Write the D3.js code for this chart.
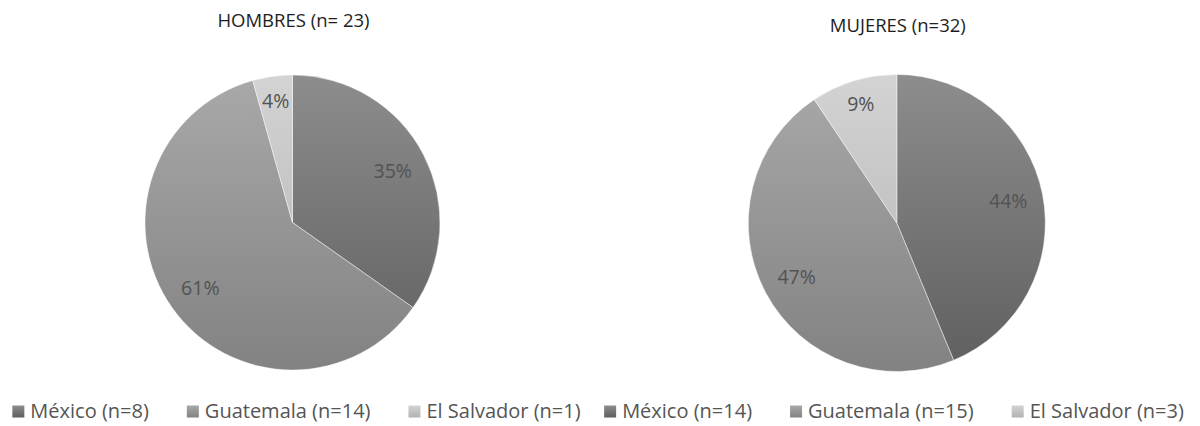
<!DOCTYPE html>
<html>
<head>
<meta charset="utf-8">
<script src="https://cdn.jsdelivr.net/npm/d3@7/dist/d3.min.js"></script>
<style>
  html, body { margin: 0; padding: 0; background: #fff; }
  svg { display: block; }
  text { font-family: "Open Sans", Lato, sans-serif; }
</style>
</head>
<body>
<svg id="chart" width="1200" height="426"></svg>
<script>
// Country of origin by sex
const countries = ["México", "Guatemala", "El Salvador"];
const hombres = [8, 14, 1];
const mujeres = [14, 15, 3];
const titles = ["HOMBRES (n= 23)", "MUJERES (n=32)"];

// Grey gradient stops per country (top, bottom)
const fillTop = ["#8d8d8d", "#a9a9a9", "#d3d3d3"];
const fillBottom = ["#5f5f5f", "#828282", "#b2b2b2"];

const svg = d3.select("#chart");
const defs = svg.append("defs");

const panels = [
  { values: hombres, title: titles[0], cx: 292.5, cy: 222.5, r: 147.5, titleY: 27, legendCx: 296.5 },
  { values: mujeres, title: titles[1], cx: 896.8, cy: 223, r: 148.5, titleY: 32, legendCx: 894 }
];

const pie = d3.pie().sort(null).value(d => d);

panels.forEach((p, pi) => {
  const g = svg.append("g").attr("transform", `translate(${p.cx},${p.cy})`);
  const total = d3.sum(p.values);

  // vertical gradients spanning the pie
  countries.forEach((c, i) => {
    const grad = defs.append("linearGradient")
      .attr("id", `grad-${pi}-${i}`)
      .attr("gradientUnits", "userSpaceOnUse")
      .attr("x1", 0).attr("y1", -p.r).attr("x2", 0).attr("y2", p.r);
    grad.append("stop").attr("offset", "0%").attr("stop-color", fillTop[i]);
    grad.append("stop").attr("offset", "100%").attr("stop-color", fillBottom[i]);
  });

  const arc = d3.arc().innerRadius(0).outerRadius(p.r);
  const arcs = pie(p.values);

  g.selectAll("path.slice").data(arcs).join("path")
    .attr("class", "slice")
    .attr("d", arc)
    .attr("fill", (d, i) => `url(#grad-${pi}-${i})`)
    .attr("stroke", "#ffffff")
    .attr("stroke-opacity", 0.55)
    .attr("stroke-width", 0.8);

  // percentage labels inside slices; narrow slices get labels nearer the rim
  g.selectAll("text.pct").data(arcs).join("text")
    .attr("class", "pct")
    .attr("transform", d => {
      const share = (d.endAngle - d.startAngle) / (2 * Math.PI);
      const lr = p.r * (share < 0.15 ? 0.835 : 0.765);
      const c = d3.arc().innerRadius(lr).outerRadius(lr).centroid(d);
      return `translate(${c[0]},${c[1]})`;
    })
    .attr("text-anchor", "middle")
    .attr("dy", "0.36em")
    .attr("fill", "#525252")
    .attr("font-size", 19.5)
    .text(d => Math.round(d.data / total * 100) + "%");

  // title
  svg.append("text")
    .attr("x", p.cx + 1)
    .attr("y", p.titleY)
    .attr("text-anchor", "middle")
    .attr("fill", "#1e1e1e")
    .attr("font-size", 18.5)
    .text(p.title);

  // legend, centred under the pie
  countries.forEach((c, i) => {
    const grad = defs.append("linearGradient")
      .attr("id", `lg-${pi}-${i}`)
      .attr("x1", 0).attr("y1", 0).attr("x2", 0).attr("y2", 1);
    grad.append("stop").attr("offset", "0%").attr("stop-color", fillTop[i]);
    grad.append("stop").attr("offset", "100%").attr("stop-color", fillBottom[i]);
  });
  const lg = svg.append("g");
  const items = countries.map((c, i) => `${c} (n=${p.values[i]})`);
  const sq = 12, gapText = 6, gapItem = 38;
  const nodes = lg.selectAll("g.item").data(items).join("g").attr("class", "item");
  nodes.append("rect")
    .attr("width", sq).attr("height", sq)
    .attr("y", 405.5)
    .attr("fill", (d, i) => `url(#lg-${pi}-${i})`);
  const labels = nodes.append("text")
    .attr("x", sq + gapText)
    .attr("y", 418)
    .attr("fill", "#555")
    .attr("font-size", 20)
    .text(d => d);
  const widths = [];
  labels.each(function () { widths.push(sq + gapText + this.getComputedTextLength()); });
  const totalW = d3.sum(widths) + gapItem * (widths.length - 1);
  let x = p.legendCx - totalW / 2;
  nodes.each(function (d, i) {
    d3.select(this).attr("transform", `translate(${x},0)`);
    x += widths[i] + gapItem;
  });
});
</script>
</body>
</html>
